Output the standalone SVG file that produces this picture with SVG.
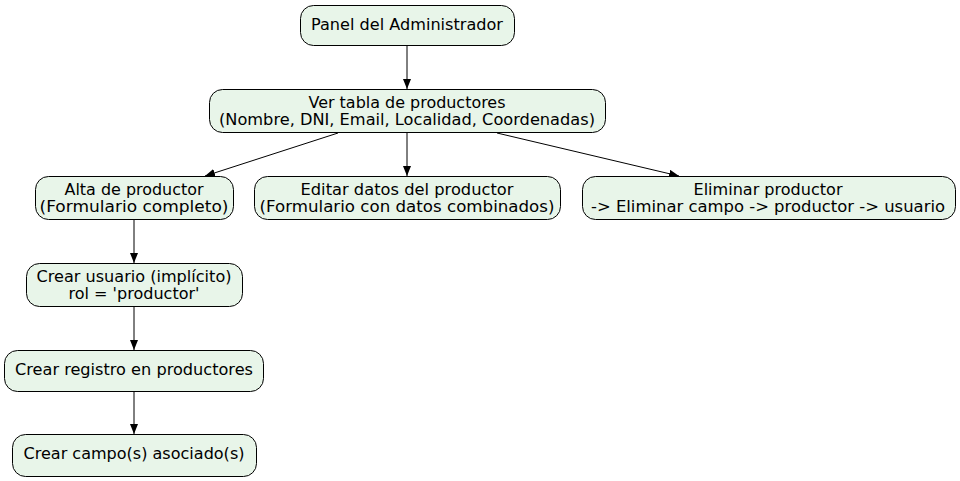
<svg xmlns="http://www.w3.org/2000/svg" width="960" height="481" viewBox="0 0 960 481">
<style>
.n rect{fill:#e8f5e9;stroke:#000;stroke-width:1}
.n text{font-family:"DejaVu Sans",sans-serif;font-size:15px;fill:#000;text-anchor:middle}
.e line{stroke:#000;stroke-width:1;marker-end:url(#a)}
</style>
<defs>
<marker id="a" markerWidth="10" markerHeight="8" refX="10" refY="4" orient="auto" markerUnits="userSpaceOnUse">
<path d="M0,0 L10,4 L0,8 Z" fill="#000"/>
</marker>
</defs>
<rect width="960" height="481" fill="#fff"/>
<g id="edges" class="e">
<line x1="407" y1="45" x2="407" y2="89"/>
<line x1="338" y1="133" x2="205" y2="176"/>
<line x1="407" y1="132" x2="407" y2="176"/>
<line x1="497" y1="133" x2="679" y2="176"/>
<line x1="134" y1="219" x2="134" y2="263"/>
<line x1="134" y1="306" x2="134" y2="350"/>
<line x1="134" y1="391" x2="134" y2="434"/>
</g>
<g id="n1" class="n"><rect x="300.5" y="5.5" width="214" height="40" rx="13"/><text x="407" y="29.5" textLength="192" lengthAdjust="spacingAndGlyphs">Panel del Administrador</text></g>
<g id="n2" class="n"><rect x="209.5" y="89.5" width="396" height="43" rx="13"/><text x="407" y="107.5" textLength="197" lengthAdjust="spacingAndGlyphs">Ver tabla de productores</text><text x="407" y="124.5" textLength="376" lengthAdjust="spacingAndGlyphs">(Nombre, DNI, Email, Localidad, Coordenadas)</text></g>
<g id="n3" class="n"><rect x="35.5" y="176.5" width="198" height="43" rx="13"/><text x="134" y="194.5" textLength="139" lengthAdjust="spacingAndGlyphs">Alta de productor</text><text x="134" y="211.5" textLength="189" lengthAdjust="spacingAndGlyphs">(Formulario completo)</text></g>
<g id="n4" class="n"><rect x="254.5" y="176.5" width="306" height="43" rx="13"/><text x="407" y="194.5" textLength="213" lengthAdjust="spacingAndGlyphs">Editar datos del productor</text><text x="407" y="211.5" textLength="295" lengthAdjust="spacingAndGlyphs">(Formulario con datos combinados)</text></g>
<g id="n5" class="n"><rect x="582.5" y="176.5" width="373" height="43" rx="13"/><text x="768" y="194.5" textLength="149" lengthAdjust="spacingAndGlyphs">Eliminar productor</text><text x="768" y="211.5" textLength="354" lengthAdjust="spacingAndGlyphs">-&gt; Eliminar campo -&gt; productor -&gt; usuario</text></g>
<g id="n6" class="n"><rect x="26.5" y="263.5" width="216" height="43" rx="13"/><text x="134" y="281.5" textLength="195" lengthAdjust="spacingAndGlyphs">Crear usuario (implícito)</text><text x="134" y="298.5" textLength="131" lengthAdjust="spacingAndGlyphs">rol = 'productor'</text></g>
<g id="n7" class="n"><rect x="4.5" y="350.5" width="259" height="41" rx="13"/><text x="134" y="375" textLength="238" lengthAdjust="spacingAndGlyphs">Crear registro en productores</text></g>
<g id="n8" class="n"><rect x="12.5" y="434.5" width="244" height="42" rx="13"/><text x="134" y="459" textLength="221" lengthAdjust="spacingAndGlyphs">Crear campo(s) asociado(s)</text></g>
</svg>
